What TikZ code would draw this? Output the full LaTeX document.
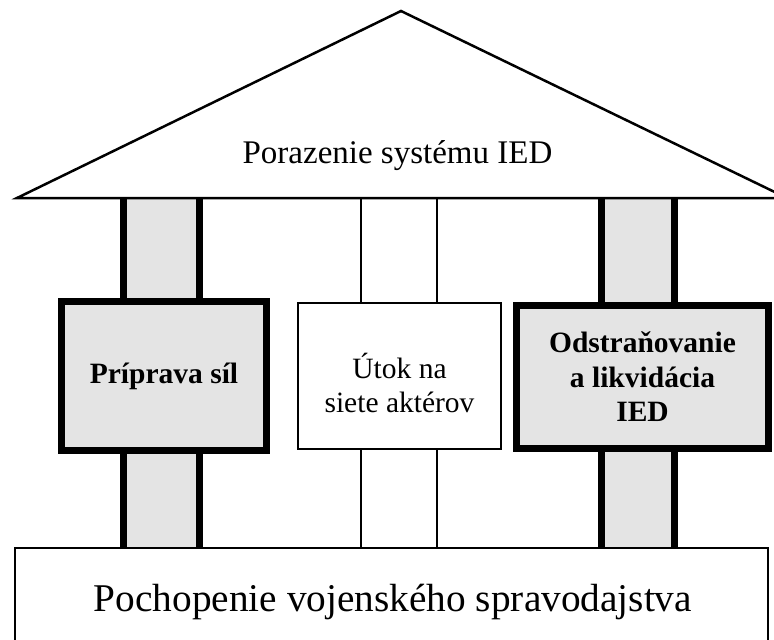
\documentclass[tikz,border=0pt]{standalone}
\usepackage{fontspec}
\setmainfont{Liberation Serif}
\usetikzlibrary{positioning}

\definecolor{pilier}{HTML}{E4E4E4}
\newcommand{\boxfont}{\fontsize{29.5}{34.5}\selectfont}

\tikzset{
  thickbox/.style={draw, line width=7pt, fill=pilier, align=center, inner sep=0pt, font=\boxfont\bfseries},
  thinbox/.style={draw, line width=2pt, fill=white, align=center, inner sep=0pt, font=\boxfont},
}

\begin{document}
\begin{tikzpicture}[x=1pt, y=-1pt]
    \useasboundingbox (0,0) rectangle (774,640);

    % stlpy
    \fill[pilier] (123,198) rectangle (199,548);
    \fill[pilier] (601,198) rectangle (674,548);
    \draw[line width=7pt] (123,198) -- (123,548) (199,198) -- (199,548);
    \draw[line width=7pt] (601,198) -- (601,548) (674,198) -- (674,548);
    \draw[line width=2pt] (361,198) -- (361,548) (437,198) -- (437,548);

    % strecha a zaklad
    \draw[line width=2.5pt, fill=white] (17,198) -- (401,11) -- (787,198) -- cycle;
    \draw[line width=2pt, fill=white] (15,660) |- (768,548) -- (768,660);
    \node[anchor=base, font=\fontsize{33}{33}\selectfont] (strecha) at (397.5,163) {Porazenie systému IED};
    \node[anchor=base, font=\fontsize{39.3}{40}\selectfont] (zaklad) at (393,611) {Pochopenie vojenského spravodajstva};

    \node[thickbox, minimum width=205pt, minimum height=149pt] (sily) at (164,376) {Príprava síl};
    \node[thinbox, minimum width=203pt, minimum height=146pt] (utok) at (399.5,376) {};
    \node[font=\boxfont, align=center, inner sep=0pt, yshift=-7pt] (utoktext) at (utok) {Útok na\\siete aktérov};
    \node[thickbox, minimum width=252pt, minimum height=143pt] (ied) at (642.5,377) {Odstraňovanie\\a likvidácia\\IED};
\end{tikzpicture}
\end{document}
